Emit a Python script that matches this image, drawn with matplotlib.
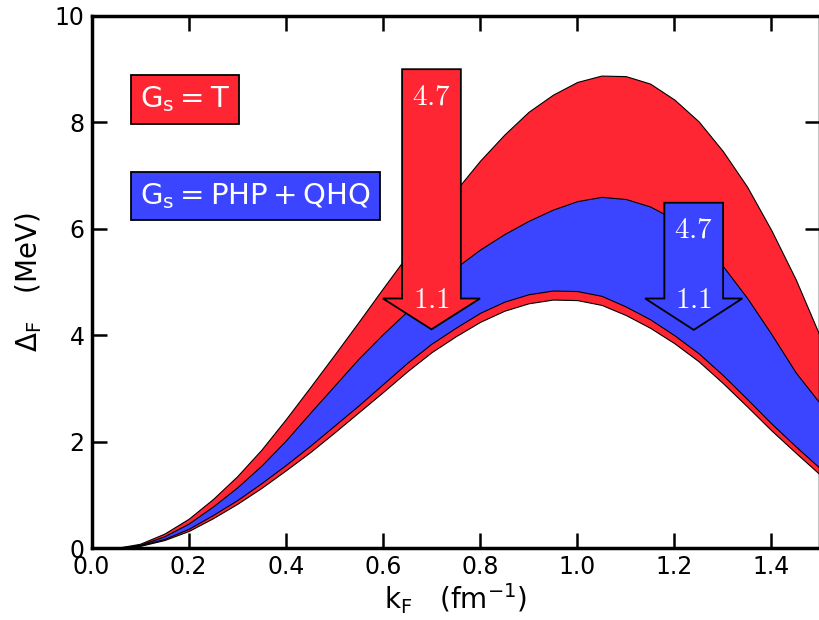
import matplotlib
matplotlib.use('Agg')
import matplotlib.pyplot as plt

# k_F grid (fm^-1) and gap curves (MeV)
kf = [0.05, 0.10, 0.15, 0.20, 0.25, 0.30, 0.35, 0.40, 0.45, 0.50,
      0.55, 0.60, 0.65, 0.70, 0.75, 0.80, 0.85, 0.90, 0.95, 1.00,
      1.05, 1.10, 1.15, 1.20, 1.25, 1.30, 1.35, 1.40, 1.45, 1.50]

# G_s = T band
t_upper = [0.00, 0.08, 0.27, 0.55, 0.92, 1.35, 1.85, 2.42, 3.02, 3.63,
           4.25, 4.88, 5.50, 6.12, 6.72, 7.28, 7.77, 8.20, 8.52, 8.76,
           8.88, 8.87, 8.73, 8.43, 8.02, 7.46, 6.79, 5.97, 5.05, 3.98]
t_lower = [0.00, 0.04, 0.15, 0.32, 0.56, 0.83, 1.13, 1.46, 1.80, 2.17,
           2.55, 2.93, 3.32, 3.68, 3.98, 4.25, 4.46, 4.60, 4.67, 4.66,
           4.57, 4.38, 4.14, 3.85, 3.51, 3.10, 2.66, 2.21, 1.79, 1.38]

# G_s = PHP + QHQ band
p_upper = [0.00, 0.06, 0.22, 0.46, 0.78, 1.14, 1.55, 2.02, 2.54, 3.05,
           3.56, 4.02, 4.45, 4.88, 5.27, 5.61, 5.90, 6.15, 6.36, 6.52,
           6.60, 6.56, 6.42, 6.18, 5.82, 5.30, 4.70, 4.02, 3.30, 2.72]
p_lower = [0.00, 0.05, 0.17, 0.36, 0.62, 0.90, 1.22, 1.56, 1.92, 2.30,
           2.68, 3.08, 3.48, 3.84, 4.14, 4.42, 4.63, 4.77, 4.84, 4.83,
           4.74, 4.54, 4.30, 4.00, 3.66, 3.25, 2.80, 2.34, 1.91, 1.50]

arrow_labels = ['4.7', '1.1']

red = '#ff2633'
blue = '#3b44ff'

fig = plt.figure(figsize=(8.2, 6.2), dpi=100)
ax = fig.add_axes([0.1116, 0.1161, 0.8884, 0.8581])

ax.fill_between(kf, t_lower, t_upper, facecolor=red, edgecolor='black', linewidth=0.8, zorder=2)
ax.fill_between(kf, p_lower, p_upper, facecolor=blue, edgecolor='black', linewidth=0.8, zorder=3)

# arrows showing the cutoff going from 4.7 to 1.1
ax.arrow(0.70, 9.0, 0, 4.11 - 9.0, width=0.121, head_width=0.20, head_length=0.58,
         length_includes_head=True, fc=red, ec='black', lw=1.3, zorder=5)
ax.arrow(1.24, 6.49, 0, 4.10 - 6.49, width=0.121, head_width=0.20, head_length=0.59,
         length_includes_head=True, fc=blue, ec='black', lw=1.3, zorder=5)

for x, ytop, ybot in [(0.70, 8.48, 4.66), (1.24, 5.98, 4.66)]:
    ax.text(x, ytop, '$' + arrow_labels[0] + '$', color='white', fontsize=21,
            ha='center', va='center', math_fontfamily='cm', zorder=6)
    ax.text(x, ybot, '$' + arrow_labels[1] + '$', color='white', fontsize=21,
            ha='center', va='center', math_fontfamily='cm', zorder=6)

# legend-like boxes
ax.text(0.10, 8.43, r'$\mathrm{G_s}{=}\mathrm{T}$', color='white', fontsize=21,
        va='center', ha='left', zorder=6,
        bbox=dict(boxstyle='square,pad=0.32', fc=red, ec='black', lw=1.3))
ax.text(0.10, 6.62, r'$\mathrm{G_s}{=}\mathrm{PHP}+\mathrm{QHQ}$', color='white', fontsize=21,
        va='center', ha='left', zorder=6,
        bbox=dict(boxstyle='square,pad=0.32', fc=blue, ec='black', lw=1.3))

ax.set_xlim(0, 1.5)
ax.set_ylim(0, 10)
ax.set_xticks([0.0, 0.2, 0.4, 0.6, 0.8, 1.0, 1.2, 1.4])
ax.set_yticks([0, 2, 4, 6, 8, 10])
ax.set_xticklabels(['0.0', '0.2', '0.4', '0.6', '0.8', '1.0', '1.2', '1.4'])
ax.set_yticklabels(['0', '2', '4', '6', '8', '10'])
ax.tick_params(direction='in', length=11, width=1.8, labelsize=17,
               top=True, right=True, pad=5)
for s in ax.spines.values():
    s.set_linewidth(2.5)

ax.set_xlabel(r'$\mathrm{k_F}\quad(\mathrm{fm}^{-1})$', fontsize=20, labelpad=2)
ax.set_ylabel(r'$\Delta_\mathrm{F}\quad(\mathrm{MeV})$', fontsize=20, labelpad=8)

fig.savefig('out.png', dpi=100)
